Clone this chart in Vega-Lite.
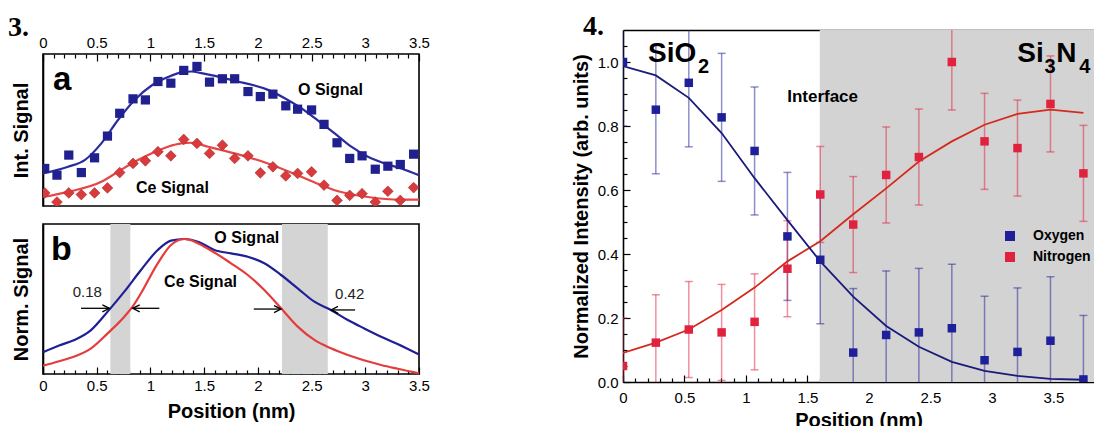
{
  "$schema": "https://vega.github.io/schema/vega-lite/v6.json",
  "background": "white",
  "padding": {"left": 7, "top": 13, "right": 0, "bottom": 0},
  "config": {
    "font": "Liberation Sans",
    "view": {"stroke": null},
    "axis": {"grid": false, "labelFont": "Liberation Sans", "labelFontSize": 15, "labelColor": "black", "titleFont": "Liberation Sans", "titleFontSize": 20, "titleFontWeight": "bold", "titleColor": "black", "tickColor": "black", "tickWidth": 1.2, "domainColor": "black", "domainWidth": 1.6, "labelFlush": false, "labelOverlap": false},
    "text": {"color": "black", "font": "Liberation Sans"}
  },
  "datasets": {
    "aO": [{"x":0.016,"y":0.247},{"x":0.13,"y":0.203},{"x":0.24,"y":0.335},{"x":0.357,"y":0.22},{"x":0.48,"y":0.317},{"x":0.6,"y":0.46},{"x":0.714,"y":0.61},{"x":0.838,"y":0.705},{"x":0.953,"y":0.698},{"x":1.07,"y":0.819},{"x":1.19,"y":0.808},{"x":1.31,"y":0.892},{"x":1.433,"y":0.918},{"x":1.55,"y":0.815},{"x":1.67,"y":0.837},{"x":1.784,"y":0.837},{"x":1.908,"y":0.753},{"x":2.023,"y":0.72},{"x":2.14,"y":0.736},{"x":2.26,"y":0.659},{"x":2.37,"y":0.637},{"x":2.5,"y":0.632},{"x":2.616,"y":0.537},{"x":2.737,"y":0.416},{"x":2.855,"y":0.313},{"x":2.97,"y":0.33},{"x":3.093,"y":0.242},{"x":3.21,"y":0.262},{"x":3.326,"y":0.273},{"x":3.45,"y":0.341}],
    "aCe": [{"x":0.016,"y":0.086},{"x":0.13,"y":0.026},{"x":0.24,"y":0.086},{"x":0.357,"y":0.075},{"x":0.48,"y":0.086},{"x":0.6,"y":0.119},{"x":0.714,"y":0.22},{"x":0.838,"y":0.28},{"x":0.953,"y":0.297},{"x":1.07,"y":0.357},{"x":1.19,"y":0.33},{"x":1.31,"y":0.438},{"x":1.433,"y":0.412},{"x":1.55,"y":0.346},{"x":1.67,"y":0.4},{"x":1.784,"y":0.313},{"x":1.908,"y":0.33},{"x":2.023,"y":0.218},{"x":2.14,"y":0.258},{"x":2.26,"y":0.198},{"x":2.37,"y":0.214},{"x":2.5,"y":0.225},{"x":2.616,"y":0.137},{"x":2.737,"y":0.037},{"x":2.855,"y":0.07},{"x":2.97,"y":0.081},{"x":3.093,"y":0.026},{"x":3.21,"y":0.097},{"x":3.326,"y":0.037},{"x":3.45,"y":0.121}],
    "aOfit": [{"x":0,"y":0.214},{"x":0.233,"y":0.258},{"x":0.388,"y":0.302},{"x":0.543,"y":0.412},{"x":0.698,"y":0.566},{"x":0.853,"y":0.698},{"x":1.008,"y":0.791},{"x":1.163,"y":0.848},{"x":1.288,"y":0.879},{"x":1.381,"y":0.885},{"x":1.474,"y":0.874},{"x":1.784,"y":0.824},{"x":2.094,"y":0.764},{"x":2.25,"y":0.709},{"x":2.405,"y":0.643},{"x":2.56,"y":0.562},{"x":2.715,"y":0.478},{"x":2.87,"y":0.39},{"x":3.025,"y":0.324},{"x":3.18,"y":0.28},{"x":3.335,"y":0.247},{"x":3.5,"y":0.203}],
    "aCefit": [{"x":0,"y":0.059},{"x":0.233,"y":0.093},{"x":0.543,"y":0.159},{"x":0.698,"y":0.225},{"x":0.853,"y":0.291},{"x":1.008,"y":0.346},{"x":1.163,"y":0.39},{"x":1.288,"y":0.412},{"x":1.381,"y":0.416},{"x":1.536,"y":0.39},{"x":1.784,"y":0.346},{"x":2.094,"y":0.28},{"x":2.405,"y":0.192},{"x":2.591,"y":0.137},{"x":2.715,"y":0.104},{"x":3.025,"y":0.059},{"x":3.335,"y":0.042},{"x":3.5,"y":0.042}],
    "bO": [{"x":0,"y":0.145},{"x":0.15,"y":0.19},{"x":0.292,"y":0.227},{"x":0.447,"y":0.293},{"x":0.602,"y":0.416},{"x":0.757,"y":0.549},{"x":0.912,"y":0.693},{"x":1.068,"y":0.827},{"x":1.192,"y":0.889},{"x":1.316,"y":0.9},{"x":1.45,"y":0.88},{"x":1.595,"y":0.827},{"x":1.75,"y":0.804},{"x":1.906,"y":0.782},{"x":2.06,"y":0.738},{"x":2.216,"y":0.66},{"x":2.371,"y":0.571},{"x":2.526,"y":0.482},{"x":2.68,"y":0.427},{"x":2.837,"y":0.36},{"x":2.99,"y":0.304},{"x":3.147,"y":0.249},{"x":3.3,"y":0.2},{"x":3.5,"y":0.13}],
    "bCe": [{"x":0,"y":0.055},{"x":0.15,"y":0.085},{"x":0.292,"y":0.116},{"x":0.447,"y":0.171},{"x":0.602,"y":0.271},{"x":0.757,"y":0.382},{"x":0.834,"y":0.449},{"x":0.912,"y":0.538},{"x":1.068,"y":0.738},{"x":1.192,"y":0.86},{"x":1.316,"y":0.9},{"x":1.347,"y":0.898},{"x":1.502,"y":0.849},{"x":1.75,"y":0.738},{"x":1.906,"y":0.66},{"x":2.06,"y":0.56},{"x":2.216,"y":0.438},{"x":2.371,"y":0.316},{"x":2.526,"y":0.227},{"x":2.68,"y":0.171},{"x":2.837,"y":0.127},{"x":3.147,"y":0.06},{"x":3.3,"y":0.035},{"x":3.5,"y":0.005}],
    "bBands": [{"x0":0.627,"x1":0.813},{"x0":2.225,"x1":2.651}],
    "bArrows": [{"x":0.354,"x2":0.618,"y":0.438,"dir":"r"},{"x":1.083,"x2":0.835,"y":0.438,"dir":"l"},{"x":1.962,"x2":2.216,"y":0.433,"dir":"r"},{"x":2.905,"x2":2.681,"y":0.427,"dir":"l"}],
    "p4": [
      {"x":0,"y":1.0,"lo":0.8,"hi":1.2,"s":"Oxygen"},
      {"x":0.267,"y":0.851,"lo":0.651,"hi":1.051,"s":"Oxygen"},
      {"x":0.535,"y":0.935,"lo":0.735,"hi":1.135,"s":"Oxygen"},
      {"x":0.802,"y":0.827,"lo":0.627,"hi":1.027,"s":"Oxygen"},
      {"x":1.07,"y":0.722,"lo":0.522,"hi":0.922,"s":"Oxygen"},
      {"x":1.337,"y":0.455,"lo":0.255,"hi":0.655,"s":"Oxygen"},
      {"x":1.604,"y":0.382,"lo":0.182,"hi":0.582,"s":"Oxygen"},
      {"x":1.872,"y":0.092,"lo":-0.108,"hi":0.292,"s":"Oxygen"},
      {"x":2.14,"y":0.147,"lo":-0.053,"hi":0.347,"s":"Oxygen"},
      {"x":2.406,"y":0.155,"lo":-0.045,"hi":0.355,"s":"Oxygen"},
      {"x":2.674,"y":0.168,"lo":-0.032,"hi":0.368,"s":"Oxygen"},
      {"x":2.94,"y":0.068,"lo":-0.132,"hi":0.268,"s":"Oxygen"},
      {"x":3.208,"y":0.094,"lo":-0.106,"hi":0.294,"s":"Oxygen"},
      {"x":3.476,"y":0.129,"lo":-0.071,"hi":0.329,"s":"Oxygen"},
      {"x":3.744,"y":0.008,"lo":-0.192,"hi":0.208,"s":"Oxygen"},
      {"x":0,"y":0.05,"lo":-0.1,"hi":0.2,"s":"Nitrogen"},
      {"x":0.267,"y":0.123,"lo":-0.027,"hi":0.273,"s":"Nitrogen"},
      {"x":0.535,"y":0.164,"lo":0.014,"hi":0.314,"s":"Nitrogen"},
      {"x":0.802,"y":0.155,"lo":0.005,"hi":0.305,"s":"Nitrogen"},
      {"x":1.07,"y":0.188,"lo":0.038,"hi":0.338,"s":"Nitrogen"},
      {"x":1.337,"y":0.354,"lo":0.204,"hi":0.504,"s":"Nitrogen"},
      {"x":1.604,"y":0.586,"lo":0.436,"hi":0.736,"s":"Nitrogen"},
      {"x":1.872,"y":0.492,"lo":0.342,"hi":0.642,"s":"Nitrogen"},
      {"x":2.14,"y":0.647,"lo":0.497,"hi":0.797,"s":"Nitrogen"},
      {"x":2.406,"y":0.703,"lo":0.553,"hi":0.853,"s":"Nitrogen"},
      {"x":2.674,"y":1.0,"lo":0.85,"hi":1.15,"s":"Nitrogen"},
      {"x":2.94,"y":0.752,"lo":0.602,"hi":0.902,"s":"Nitrogen"},
      {"x":3.208,"y":0.731,"lo":0.581,"hi":0.881,"s":"Nitrogen"},
      {"x":3.476,"y":0.869,"lo":0.719,"hi":1.019,"s":"Nitrogen"},
      {"x":3.744,"y":0.652,"lo":0.502,"hi":0.802,"s":"Nitrogen"}
    ],
    "fitO4": [{"x":0,"y":0.987},{"x":0.267,"y":0.958},{"x":0.535,"y":0.888},{"x":0.802,"y":0.778},{"x":1.07,"y":0.637},{"x":1.337,"y":0.506},{"x":1.604,"y":0.377},{"x":1.872,"y":0.267},{"x":2.14,"y":0.175},{"x":2.406,"y":0.11},{"x":2.674,"y":0.063},{"x":2.94,"y":0.035},{"x":3.208,"y":0.019},{"x":3.476,"y":0.01},{"x":3.744,"y":0.007}],
    "fitN4": [{"x":0,"y":0.091},{"x":0.267,"y":0.123},{"x":0.535,"y":0.164},{"x":0.802,"y":0.225},{"x":1.07,"y":0.295},{"x":1.337,"y":0.377},{"x":1.604,"y":0.44},{"x":1.872,"y":0.524},{"x":2.14,"y":0.605},{"x":2.406,"y":0.689},{"x":2.674,"y":0.752},{"x":2.94,"y":0.804},{"x":3.208,"y":0.838},{"x":3.476,"y":0.851},{"x":3.744,"y":0.841}]
  },
  "spacing": 140,
  "hconcat": [
    {
      "bounds": "flush",
      "spacing": 18,
      "vconcat": [
        {"width": 376, "height": 6, "data": {"values": [{"k": 1}]}, "mark": {"type": "point", "opacity": 0}},
        {
          "width": 376, "height": 152,
          "view": {"stroke": "black", "strokeWidth": 1.6},
          "title": {"text": "3.", "anchor": "start", "frame": "group", "dx": -35, "dy": 29, "offset": 0, "font": "Liberation Serif", "fontSize": 28, "fontWeight": "bold", "baseline": "alphabetic", "color": "black"},
          "resolve": {"axis": {"x": "independent", "y": "independent"}},
          "layer": [
            {"data": {"name": "aOfit"}, "mark": {"type": "line", "color": "#2b2ba0", "strokeWidth": 2.2, "interpolate": "monotone", "clip": true},
             "encoding": {
               "x": {"field": "x", "type": "quantitative", "scale": {"domain": [0, 3.5], "nice": false, "zero": false}, "axis": {"orient": "top", "values": [0,0.5,1,1.5,2,2.5,3,3.5], "format": "~g", "ticks": false, "domain": false, "labelPadding": 4, "title": null}},
               "y": {"field": "y", "type": "quantitative", "scale": {"domain": [0, 1], "nice": false, "zero": false}, "axis": {"orient": "left", "title": "Int. Signal", "labels": false, "ticks": false, "domain": true, "titlePadding": 12}}}},
            {"data": {"name": "aCefit"}, "mark": {"type": "line", "color": "#e64646", "strokeWidth": 2.2, "interpolate": "monotone", "clip": true},
             "encoding": {
               "x": {"field": "x", "type": "quantitative", "scale": {"domain": [0, 3.5], "nice": false, "zero": false}, "axis": {"orient": "top", "values": [0,0.5,1,1.5,2,2.5,3,3.5], "labels": false, "domain": false, "tickSize": -7, "title": null}},
               "y": {"field": "y", "type": "quantitative", "scale": {"domain": [0, 1], "nice": false, "zero": false}, "axis": null}}},
            {"data": {"name": "aO"}, "mark": {"type": "point", "shape": "square", "filled": true, "size": 85, "opacity": 1, "color": "#20208f", "clip": true},
             "encoding": {
               "x": {"field": "x", "type": "quantitative", "scale": {"domain": [0, 3.5], "nice": false, "zero": false}, "axis": {"orient": "top", "values": [0.1,0.2,0.3,0.4,0.6,0.7,0.8,0.9,1.1,1.2,1.3,1.4,1.6,1.7,1.8,1.9,2.1,2.2,2.3,2.4,2.6,2.7,2.8,2.9,3.1,3.2,3.3,3.4], "labels": false, "domain": false, "tickSize": -4, "title": null}},
               "y": {"field": "y", "type": "quantitative", "scale": {"domain": [0, 1], "nice": false, "zero": false}, "axis": null}}},
            {"data": {"name": "aCe"}, "mark": {"type": "point", "shape": "diamond", "filled": true, "size": 115, "opacity": 1, "color": "#d93a3c", "stroke": "#a52a2a", "strokeWidth": 0.6, "clip": true},
             "encoding": {
               "x": {"field": "x", "type": "quantitative", "axis": null},
               "y": {"field": "y", "type": "quantitative", "axis": null}}},
            {"data": {"values": [{"x": 0.093, "y": 0.763, "t": "a"}]}, "mark": {"type": "text", "fontSize": 33, "fontWeight": "bold", "align": "left", "baseline": "alphabetic"},
             "encoding": {"x": {"field": "x", "type": "quantitative", "axis": null}, "y": {"field": "y", "type": "quantitative", "axis": null}, "text": {"field": "t"}}},
            {"data": {"values": [{"x": 2.374, "y": 0.73, "t": "O Signal"}, {"x": 0.866, "y": 0.085, "t": "Ce Signal"}]}, "mark": {"type": "text", "fontSize": 16, "fontWeight": "bold", "align": "left", "baseline": "alphabetic"},
             "encoding": {"x": {"field": "x", "type": "quantitative", "axis": null}, "y": {"field": "y", "type": "quantitative", "axis": null}, "text": {"field": "t"}}}
          ]
        },
        {
          "width": 376, "height": 150,
          "view": {"stroke": "black", "strokeWidth": 1.6},
          "resolve": {"axis": {"x": "independent", "y": "independent"}},
          "layer": [
            {"data": {"name": "bBands"}, "mark": {"type": "rect", "color": "#d4d4d4"},
             "encoding": {
               "x": {"field": "x0", "type": "quantitative", "scale": {"domain": [0, 3.5], "nice": false, "zero": false}, "axis": {"orient": "bottom", "values": [0,0.5,1,1.5,2,2.5,3,3.5], "format": "~g", "ticks": false, "domain": false, "labelPadding": 4, "title": "Position (nm)", "titlePadding": 8}},
               "x2": {"field": "x1"}}},
            {"data": {"name": "bO"}, "mark": {"type": "line", "color": "#1f1f96", "strokeWidth": 2.2, "interpolate": "monotone", "clip": true},
             "encoding": {
               "x": {"field": "x", "type": "quantitative", "scale": {"domain": [0, 3.5], "nice": false, "zero": false}, "axis": {"orient": "bottom", "values": [0,0.5,1,1.5,2,2.5,3,3.5], "labels": false, "domain": false, "tickSize": -7, "title": null}},
               "y": {"field": "y", "type": "quantitative", "scale": {"domain": [0, 1], "nice": false, "zero": false}, "axis": {"orient": "left", "title": "Norm. Signal", "labels": false, "ticks": false, "domain": true, "titlePadding": 12}}}},
            {"data": {"name": "bCe"}, "mark": {"type": "line", "color": "#e43c3c", "strokeWidth": 2.2, "interpolate": "monotone", "clip": true},
             "encoding": {
               "x": {"field": "x", "type": "quantitative", "scale": {"domain": [0, 3.5], "nice": false, "zero": false}, "axis": {"orient": "bottom", "values": [0.1,0.2,0.3,0.4,0.6,0.7,0.8,0.9,1.1,1.2,1.3,1.4,1.6,1.7,1.8,1.9,2.1,2.2,2.3,2.4,2.6,2.7,2.8,2.9,3.1,3.2,3.3,3.4], "labels": false, "domain": false, "tickSize": -4, "title": null}},
               "y": {"field": "y", "type": "quantitative", "scale": {"domain": [0, 1], "nice": false, "zero": false}, "axis": null}}},
            {"data": {"name": "bArrows"}, "mark": {"type": "rule", "color": "black", "strokeWidth": 1.3},
             "encoding": {
               "x": {"field": "x", "type": "quantitative", "axis": null},
               "x2": {"field": "x2"},
               "y": {"field": "y", "type": "quantitative", "axis": null}}},
            {"data": {"name": "bArrows"}, "mark": {"type": "point", "filled": false, "color": "black", "strokeWidth": 1.3, "size": 196, "opacity": 1},
             "encoding": {
               "x": {"field": "x2", "type": "quantitative", "axis": null},
               "y": {"field": "y", "type": "quantitative", "axis": null},
               "shape": {"field": "dir", "type": "nominal", "scale": {"domain": ["r", "l"], "range": ["M-1,-0.5L0,0L-1,0.5", "M1,-0.5L0,0L1,0.5"]}, "legend": null}}},
            {"data": {"values": [{"x": 0.074, "y": 0.76, "t": "b"}]}, "mark": {"type": "text", "fontSize": 34, "fontWeight": "bold", "align": "left", "baseline": "alphabetic"},
             "encoding": {"x": {"field": "x", "type": "quantitative", "axis": null}, "y": {"field": "y", "type": "quantitative", "axis": null}, "text": {"field": "t"}}},
            {"data": {"values": [{"x": 1.595, "y": 0.871, "t": "O Signal"}, {"x": 1.127, "y": 0.582, "t": "Ce Signal"}]}, "mark": {"type": "text", "fontSize": 16, "fontWeight": "bold", "align": "left", "baseline": "alphabetic"},
             "encoding": {"x": {"field": "x", "type": "quantitative", "axis": null}, "y": {"field": "y", "type": "quantitative", "axis": null}, "text": {"field": "t"}}},
            {"data": {"values": [{"x": 0.276, "y": 0.511, "t": "0.18"}, {"x": 2.719, "y": 0.498, "t": "0.42"}]}, "mark": {"type": "text", "fontSize": 15, "align": "left", "baseline": "alphabetic", "color": "#222222"},
             "encoding": {"x": {"field": "x", "type": "quantitative", "axis": null}, "y": {"field": "y", "type": "quantitative", "axis": null}, "text": {"field": "t"}}}
          ]
        }
      ]
    },
    {
      "width": 471, "height": 352,
      "title": {"text": "4.", "anchor": "start", "frame": "group", "dx": -40, "dy": 33, "offset": 0, "font": "Liberation Serif", "fontSize": 28, "fontWeight": "bold", "baseline": "alphabetic", "color": "black"},
      "resolve": {"axis": {"x": "independent", "y": "independent"}, "scale": {"color": "independent"}},
      "layer": [
        {"data": {"values": [{"x0": 1.6, "x1": 3.9}]}, "mark": {"type": "rect", "color": "#d3d3d3", "clip": true},
         "encoding": {
           "x": {"field": "x0", "type": "quantitative", "scale": {"domain": [0, 3.83], "nice": false, "zero": false}, "axis": {"orient": "bottom", "values": [0,0.5,1,1.5,2,2.5,3,3.5], "format": "~g", "ticks": false, "domain": true, "labelPadding": 8, "title": "Position (nm)", "titlePadding": 5}},
           "x2": {"field": "x1"}}},
        {"data": {"name": "p4"}, "mark": {"type": "rule", "strokeWidth": 1.5, "opacity": 0.5, "clip": true},
         "encoding": {
           "x": {"field": "x", "type": "quantitative", "scale": {"domain": [0, 3.83], "nice": false, "zero": false}, "axis": {"orient": "bottom", "values": [0,0.5,1,1.5,2,2.5,3,3.5], "labels": false, "domain": false, "tickSize": -7, "title": null}},
           "y": {"field": "lo", "type": "quantitative", "scale": {"domain": [0, 1.1], "nice": false, "zero": false}, "axis": {"orient": "left", "values": [0,0.2,0.4,0.6,0.8,1.0], "format": ".1f", "ticks": false, "domain": true, "labelPadding": 5, "title": "Normalized Intensity (arb. units)", "titlePadding": 6}},
           "y2": {"field": "hi"},
           "color": {"field": "s", "type": "nominal", "scale": {"domain": ["Oxygen", "Nitrogen"], "range": ["#1f1f99", "#e0223f"]}, "legend": null}}},
        {"data": {"name": "p4"}, "mark": {"type": "tick", "orient": "horizontal", "size": 8, "thickness": 1.5, "opacity": 0.5, "clip": true},
         "encoding": {
           "x": {"field": "x", "type": "quantitative", "scale": {"domain": [0, 3.83], "nice": false, "zero": false}, "axis": {"orient": "bottom", "values": [0.1,0.2,0.3,0.4,0.6,0.7,0.8,0.9,1.1,1.2,1.3,1.4,1.6,1.7,1.8,1.9,2.1,2.2,2.3,2.4,2.6,2.7,2.8,2.9,3.1,3.2,3.3,3.4,3.6,3.7,3.8], "labels": false, "domain": false, "tickSize": -4, "title": null}},
           "y": {"field": "lo", "type": "quantitative", "scale": {"domain": [0, 1.1], "nice": false, "zero": false}, "axis": {"orient": "left", "values": [0,0.2,0.4,0.6,0.8,1.0], "labels": false, "domain": false, "tickSize": -7, "title": null}},
           "color": {"field": "s", "type": "nominal", "scale": {"domain": ["Oxygen", "Nitrogen"], "range": ["#1f1f99", "#e0223f"]}, "legend": null}}},
        {"data": {"name": "p4"}, "mark": {"type": "tick", "orient": "horizontal", "size": 8, "thickness": 1.5, "opacity": 0.5, "clip": true},
         "encoding": {
           "x": {"field": "x", "type": "quantitative", "scale": {"domain": [0, 3.83], "nice": false, "zero": false}, "axis": {"orient": "top", "labels": false, "ticks": false, "domain": true, "title": null}},
           "y": {"field": "hi", "type": "quantitative", "scale": {"domain": [0, 1.1], "nice": false, "zero": false}, "axis": {"orient": "left", "values": [0.05,0.1,0.15,0.25,0.3,0.35,0.45,0.5,0.55,0.65,0.7,0.75,0.85,0.9,0.95,1.05], "labels": false, "domain": false, "tickSize": -4, "title": null}},
           "color": {"field": "s", "type": "nominal", "scale": {"domain": ["Oxygen", "Nitrogen"], "range": ["#1f1f99", "#e0223f"]}, "legend": null}}},
        {"data": {"name": "fitN4"}, "mark": {"type": "line", "color": "#d42a1e", "strokeWidth": 1.8, "clip": true},
         "encoding": {"x": {"field": "x", "type": "quantitative", "axis": null}, "y": {"field": "y", "type": "quantitative", "axis": null}}},
        {"data": {"name": "fitO4"}, "mark": {"type": "line", "color": "#1a1a7a", "strokeWidth": 1.8, "clip": true},
         "encoding": {"x": {"field": "x", "type": "quantitative", "axis": null}, "y": {"field": "y", "type": "quantitative", "axis": null}}},
        {"data": {"name": "p4"}, "mark": {"type": "point", "shape": "square", "filled": true, "size": 72, "opacity": 1, "clip": true},
         "encoding": {
           "x": {"field": "x", "type": "quantitative", "axis": null},
           "y": {"field": "y", "type": "quantitative", "axis": null},
           "color": {"field": "s", "type": "nominal", "scale": {"domain": ["Oxygen", "Nitrogen"], "range": ["#1f1f99", "#e0223f"]}, "legend": {"orient": "none", "legendX": 380, "legendY": 199, "title": null, "symbolType": "square", "symbolSize": 100, "symbolStrokeWidth": 0, "labelFontSize": 14, "labelFontWeight": "bold", "labelFont": "Liberation Sans", "labelColor": "black", "labelOffset": 16, "rowPadding": 7, "padding": 0}}}},
        {"data": {"values": [{"x": 0.203, "y": 0.999, "t": "SiO"}, {"x": 3.206, "y": 0.999, "t": "Si"}, {"x": 3.523, "y": 0.999, "t": "N"}]}, "mark": {"type": "text", "fontSize": 28, "fontWeight": "bold", "align": "left", "baseline": "alphabetic"},
         "encoding": {"x": {"field": "x", "type": "quantitative", "axis": null}, "y": {"field": "y", "type": "quantitative", "axis": null}, "text": {"field": "t"}}},
        {"data": {"values": [{"x": 0.61, "y": 0.967, "t": "2"}, {"x": 3.427, "y": 0.967, "t": "3"}, {"x": 3.71, "y": 0.967, "t": "4"}]}, "mark": {"type": "text", "fontSize": 20, "fontWeight": "bold", "align": "left", "baseline": "alphabetic"},
         "encoding": {"x": {"field": "x", "type": "quantitative", "axis": null}, "y": {"field": "y", "type": "quantitative", "axis": null}, "text": {"field": "t"}}},
        {"data": {"values": [{"x": 1.623, "y": 0.89, "t": "Interface"}]}, "mark": {"type": "text", "fontSize": 17, "fontWeight": "bold", "align": "center", "baseline": "middle"},
         "encoding": {"x": {"field": "x", "type": "quantitative", "axis": null}, "y": {"field": "y", "type": "quantitative", "axis": null}, "text": {"field": "t"}}}
      ]
    }
  ]
}
